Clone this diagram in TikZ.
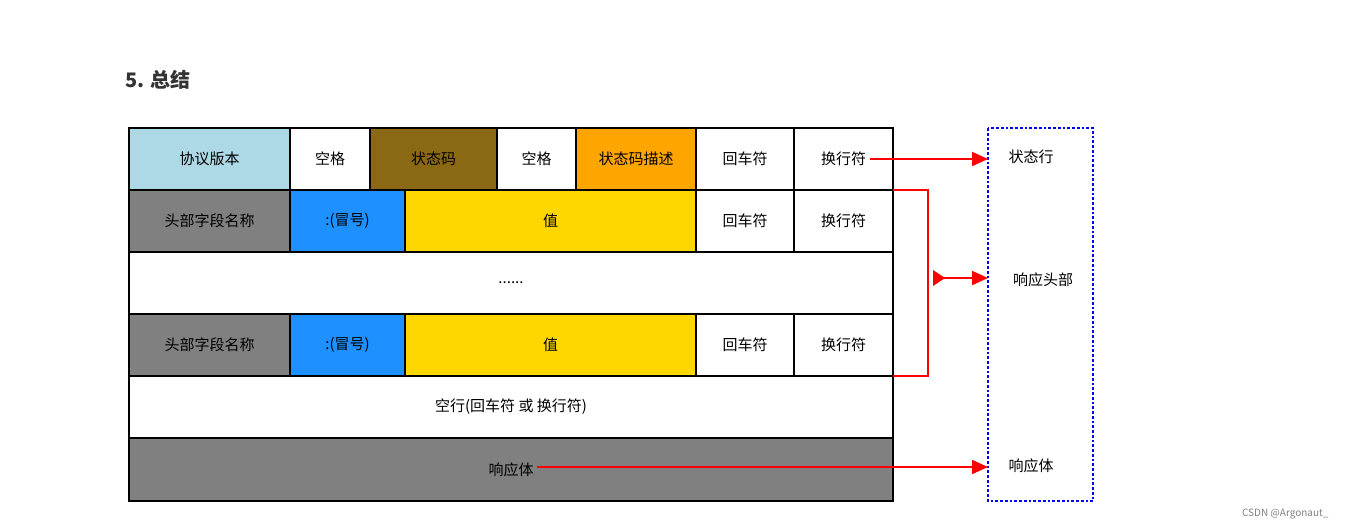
\documentclass[tikz,border=0pt]{standalone}
\usepackage{fontspec}
\setmainfont{Noto Sans CJK SC}
\usetikzlibrary{arrows.meta}
\definecolor{lb}{HTML}{ADD8E6}
\definecolor{br}{HTML}{8B6914}
\definecolor{og}{HTML}{FFA500}
\definecolor{gy}{HTML}{808080}
\definecolor{bl}{HTML}{1E90FF}
\definecolor{gd}{HTML}{FFD700}
\begin{document}
\begin{tikzpicture}[x=1pt,y=-1pt,
  cell/.style={draw=black,line width=2.5pt,font=\fontsize{15}{18}\selectfont},
  arr/.style={red,line width=2pt,-{Triangle[length=16pt,width=14pt]}}]
\useasboundingbox (0,0) rectangle (1346,531);
\node[anchor=west,font=\bfseries\fontsize{20}{24}\selectfont,text=black!80] (t) at (122,80) {5. 总结};
\newcommand\cellat[6]{\path[cell,fill=#5] (#1,#2) rectangle (#3,#4) node[midway] (#6) {};}
\newcommand\cel[7]{\draw[cell,fill=#5] (#1,#2) rectangle (#3,#4); \node[font=\fontsize{15}{18}\selectfont] (#7) at ({(#1+#3)/2},{(#2+#4)/2}) {#6};}
\cel{129}{128}{290}{190}{lb}{协议版本}{a1}
\cel{290}{128}{370}{190}{white}{空格}{a2}
\cel{370}{128}{497}{190}{br}{状态码}{a3}
\cel{497}{128}{576}{190}{white}{空格}{a4}
\cel{576}{128}{696}{190}{og}{状态码描述}{a5}
\cel{696}{128}{794}{190}{white}{回车符}{a6}
\cel{794}{128}{893}{190}{white}{换行符}{a7}
\cel{129}{190}{290}{252}{gy}{头部字段名称}{b1}
\cel{290}{190}{405}{252}{bl}{:(冒号)}{b2}
\cel{405}{190}{696}{252}{gd}{值}{b3}
\cel{696}{190}{794}{252}{white}{回车符}{b4}
\cel{794}{190}{893}{252}{white}{换行符}{b5}
\cel{129}{252}{893}{314}{white}{......}{c1}
\cel{129}{314}{290}{376}{gy}{头部字段名称}{d1}
\cel{290}{314}{405}{376}{bl}{:(冒号)}{d2}
\cel{405}{314}{696}{376}{gd}{值}{d3}
\cel{696}{314}{794}{376}{white}{回车符}{d4}
\cel{794}{314}{893}{376}{white}{换行符}{d5}
\cel{129}{376}{893}{438}{white}{空行(回车符 或 换行符)}{e1}
\cel{129}{438}{893}{501}{gy}{响应体}{f1}
\draw[blue,line width=2.5pt,dash dot] (988,128) rectangle (1093,501);
\node[font=\fontsize{15}{18}\selectfont] (s1) at (1031,157) {状态行};
\node[font=\fontsize{15}{18}\selectfont] (s2) at (1043,280) {响应头部};
\node[font=\fontsize{15}{18}\selectfont] (s3) at (1031,466) {响应体};
\coordinate (p1) at (988,159);
\coordinate (p2) at (988,278);
\coordinate (p3) at (988,467);
\coordinate (m) at (933,278);
\draw[arr] (a7.east |- 0,159) -- (p1);
\draw[red,line width=2pt] (893,190) -- (928,190) -- (928,376) -- (893,376);
\draw[arr] (m) -- (p2);
\fill[red] (933,270) -- (945,278) -- (933,286) -- cycle;
\draw[arr] (f1.east |- 0,467) -- (p3);
\node[anchor=east,text=gray,font=\fontsize{10}{12}\selectfont] (w) at (1332,514) {CSDN @Argonaut\_};
\end{tikzpicture}
\end{document}
